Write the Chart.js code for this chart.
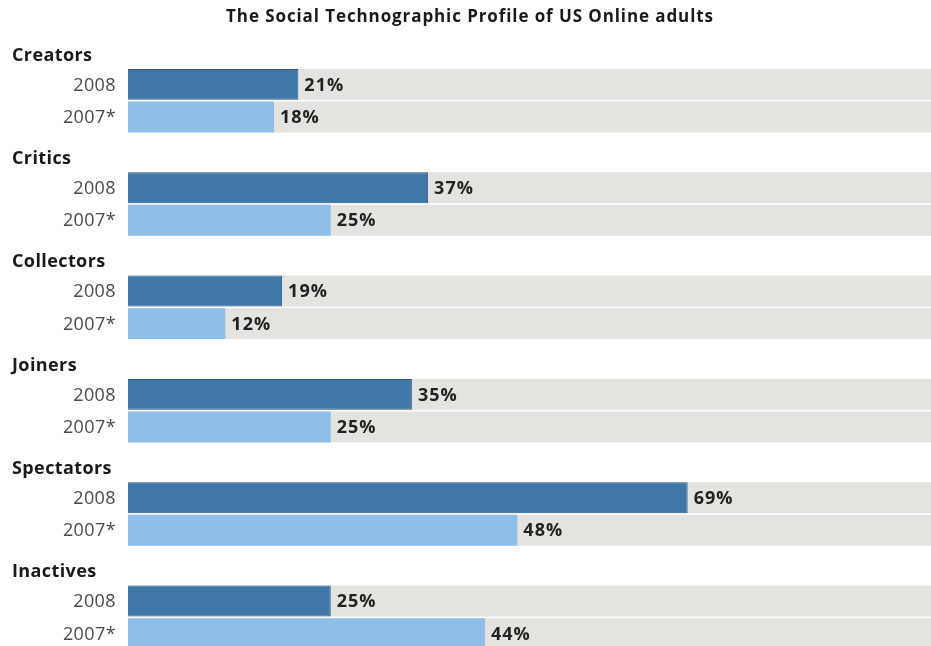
<!DOCTYPE html>
<html lang="en">
<head>
  <meta charset="UTF-8" />
  <title>The Social Technographic Profile of US Online adults</title>
  <script src="https://cdn.jsdelivr.net/npm/chart.js"></script>
  <style>
    html, body { margin: 0; padding: 0; background: #fff; overflow: hidden; }
    #wrap { position: relative; width: 931px; height: 670px; }
  </style>
</head>
<body>
  <div id="wrap"><canvas id="profileChart"></canvas></div>

  <script>
    const title = 'The Social Technographic Profile of US Online adults';
    const groups = ['Creators', 'Critics', 'Collectors', 'Joiners', 'Spectators', 'Inactives'];
    const seriesNames = ['2008', '2007*'];
    const values2008 = [21, 37, 19, 35, 69, 25];
    const values2007 = [18, 25, 12, 25, 48, 44];

    const FONT = '"Open Sans", "Noto Sans", sans-serif';

    // grey track behind each bar + all text labels
    const decor = {
      id: 'decor',
      beforeDatasetsDraw(chart) {
        const { ctx, chartArea } = chart;
        ctx.save();
        ctx.fillStyle = '#e4e3e0';
        chart.data.datasets.forEach((ds, i) => {
          chart.getDatasetMeta(i).data.forEach(bar => {
            const h = bar.height;
            ctx.fillRect(chartArea.left, bar.y - h / 2, chart.width - chartArea.left, h);
          });
        });
        ctx.restore();
      },
      afterDatasetsDraw(chart) {
        const { ctx, chartArea } = chart;
        const yScale = chart.scales.y;
        ctx.save();
        ctx.textBaseline = 'middle';

        // title
        ctx.fillStyle = '#1a1a1a';
        ctx.font = 'bold 17px ' + FONT;
        ctx.letterSpacing = '0.9px';
        ctx.textAlign = 'center';
        ctx.fillText(title, 470, 17);

        // group names
        ctx.textAlign = 'left';
        ctx.font = 'bold 18px ' + FONT;
        ctx.letterSpacing = '0.4px';
        groups.forEach((g, i) => {
          ctx.fillText(g, 12, yScale.getPixelForValue(i) - 45);
        });

        chart.data.datasets.forEach((ds, di) => {
          chart.getDatasetMeta(di).data.forEach((bar, i) => {
            // year labels
            ctx.textAlign = 'right';
            ctx.font = '18px ' + FONT;
            ctx.letterSpacing = '0.4px';
            ctx.fillStyle = '#4a4a4a';
            ctx.fillText(ds.label, chartArea.left - 12, bar.y + 1);
            // value labels
            ctx.textAlign = 'left';
            ctx.font = 'bold 18px ' + FONT;
            ctx.letterSpacing = '1px';
            ctx.fillStyle = '#222';
            ctx.fillText(ds.data[i] + '%', bar.x + 6, bar.y + 1);
          });
        });
        ctx.restore();
      }
    };

    new Chart(document.getElementById('profileChart'), {
      type: 'bar',
      data: {
        labels: groups,
        datasets: [
          {
            label: seriesNames[0],
            data: values2008,
            backgroundColor: '#3f77a9',
            borderColor: '#2d5f8c',
            borderWidth: 1,
            categoryPercentage: 0.63,
            barPercentage: 0.95
          },
          {
            label: seriesNames[1],
            data: values2007,
            backgroundColor: '#8fbfe9',
            borderWidth: 0,
            categoryPercentage: 0.63,
            barPercentage: 0.95
          }
        ]
      },
      options: {
        indexAxis: 'y',
        responsive: true,
        maintainAspectRatio: false,
        animation: false,
        layout: { padding: { left: 128, top: 49, right: 0, bottom: 1 } },
        scales: {
          x: { display: false, min: 0, max: 99 },
          y: { display: false }
        },
        plugins: {
          legend: { display: false },
          tooltip: { enabled: false }
        }
      },
      plugins: [decor]
    });
  </script>
</body>
</html>
